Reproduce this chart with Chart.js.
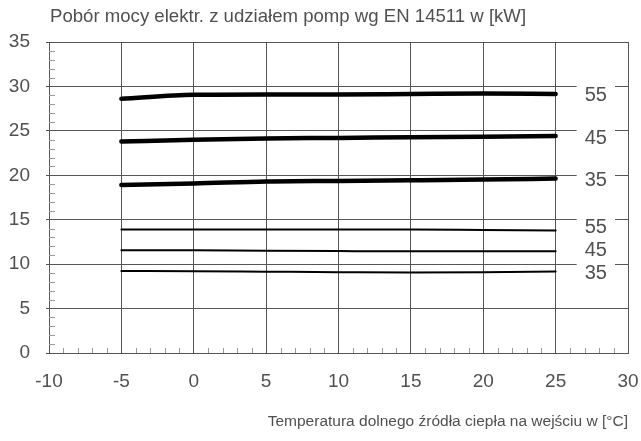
<!DOCTYPE html>
<html>
<head>
<meta charset="utf-8">
<script src="https://cdn.jsdelivr.net/npm/chart.js@4.4.1/dist/chart.umd.min.js"></script>
<style>
  html, body { margin: 0; padding: 0; background: #fff; }
  #wrap { width: 641px; height: 441px; }
</style>
</head>
<body>
<div id="wrap"><canvas id="chart" width="641" height="441"></canvas></div>
<script>
// temperatura dolnego źródła [°C]
const xValues = [-5, 0, 5, 10, 15, 20, 25];

// pobór mocy [kW], grube linie
const thick55 = [28.6, 29.05, 29.1, 29.1, 29.15, 29.2, 29.15];
const thick45 = [23.8, 24.0, 24.15, 24.2, 24.28, 24.33, 24.42];
const thick35 = [18.92, 19.07, 19.3, 19.37, 19.44, 19.52, 19.63];

// cienkie linie
const thin55 = [13.91, 13.91, 13.91, 13.91, 13.9, 13.85, 13.8];
const thin45 = [11.57, 11.55, 11.5, 11.47, 11.45, 11.45, 11.45];
const thin35 = [9.22, 9.2, 9.15, 9.1, 9.06, 9.1, 9.18];

const seriesLabels = ["55", "45", "35", "55", "45", "35"];

const yTitle = "Pobór mocy elektr. z udziałem pomp wg EN 14511 w [kW]";
const xTitle = "Temperatura dolnego źródła ciepła na wejściu w [°C]";

const FONT = "'Liberation Sans', Arial, sans-serif";
const TEXT = "#505050";

function toPoints(values) {
    return values.map((v, i) => ({ x: xValues[i], y: v }));
}

function series(values, label, width) {
    return {
        label,
        data: toPoints(values),
        borderColor: "#000",
        borderWidth: width,
        borderCapStyle: "round",
        pointRadius: 0,
        showLine: true,
        fill: false,
        cubicInterpolationMode: "monotone"
    };
}

const minorTicks = {
    id: "minorTicks",
    beforeDatasetsDraw(chart) {
        const { ctx, chartArea, scales } = chart;
        ctx.save();
        ctx.strokeStyle = "#9a9a9a";
        ctx.lineWidth = 1;
        ctx.beginPath();
        for (let v = -10; v <= 30; v++) {
            if (v % 5 === 0) continue;
            const px = Math.round(scales.x.getPixelForValue(v)) + 0.5;
            ctx.moveTo(px, chartArea.bottom);
            ctx.lineTo(px, chartArea.bottom - 5);
        }
        for (let v = 0; v <= 35; v++) {
            if (v % 5 === 0) continue;
            const py = Math.round(scales.y.getPixelForValue(v)) + 0.5;
            ctx.moveTo(chartArea.left, py);
            ctx.lineTo(chartArea.left + 6, py);
        }
        ctx.stroke();
        ctx.restore();
    }
};

const endLabels = {
    id: "endLabels",
    afterDatasetsDraw(chart) {
        const { ctx, chartArea, scales } = chart;
        const xEnd = scales.x.getPixelForValue(xValues[xValues.length - 1]);
        const items = chart.data.datasets.map(ds => ({
            text: ds.label,
            y: scales.y.getPixelForValue(ds.data[ds.data.length - 1].y)
        }));
        // od dołu: rozsuń etykiety które na siebie nachodzą
        items.sort((a, b) => b.y - a.y);
        for (let i = 1; i < items.length; i++) {
            if (items[i - 1].y - items[i].y < 23) items[i].y = items[i - 1].y - 23;
        }
        ctx.save();
        ctx.fillStyle = "#fff";
        items.forEach(it => {
            ctx.fillRect(xEnd + 21, it.y + 2 - 12, chartArea.right - 13 - (xEnd + 21), 24);
        });
        ctx.fillStyle = TEXT;
        ctx.font = "20px " + FONT;
        ctx.textAlign = "left";
        ctx.textBaseline = "middle";
        items.forEach(it => ctx.fillText(it.text, xEnd + 29, it.y + 2));
        ctx.restore();
    }
};

const topTitle = {
    id: "topTitle",
    afterDraw(chart) {
        const { ctx, chartArea } = chart;
        ctx.save();
        ctx.fillStyle = TEXT;
        ctx.font = "18.6px " + FONT;
        ctx.textAlign = "left";
        ctx.textBaseline = "middle";
        ctx.fillText(yTitle, chartArea.left + 1, 17);
        ctx.restore();
    }
};

new Chart(document.getElementById("chart"), {
    type: "scatter",
    data: {
        datasets: [
            series(thick55, seriesLabels[0], 4.5),
            series(thick45, seriesLabels[1], 4.5),
            series(thick35, seriesLabels[2], 4.5),
            series(thin55, seriesLabels[3], 2),
            series(thin45, seriesLabels[4], 2),
            series(thin35, seriesLabels[5], 2)
        ]
    },
    options: {
        responsive: false,
        animation: false,
        layout: { padding: { top: 42, right: 13, left: 0, bottom: 0 } },
        plugins: {
            legend: { display: false },
            tooltip: { enabled: false }
        },
        scales: {
            x: {
                type: "linear",
                min: -10,
                max: 30,
                ticks: {
                    stepSize: 5,
                    color: TEXT,
                    padding: 17,
                    maxRotation: 0,
                    font: { family: FONT, size: 19 }
                },
                grid: { color: "#555", lineWidth: 1, drawTicks: false },
                border: { color: "#555" },
                title: {
                    display: true,
                    text: xTitle,
                    align: "end",
                    color: TEXT,
                    font: { family: FONT, size: 15.5 },
                    padding: { top: 0, bottom: 10 }
                },
                afterFit(scale) {
                    scale.height = 88;
                    scale.paddingLeft = 0;
                    scale.paddingRight = 0;
                }
            },
            y: {
                min: 0,
                max: 35,
                ticks: {
                    stepSize: 5,
                    color: TEXT,
                    padding: 16,
                    font: { family: FONT, size: 19 }
                },
                grid: { color: "#555", lineWidth: 1, tickLength: 3 },
                border: { color: "#555" },
                afterFit(scale) {
                    scale.width = 49;
                    scale.paddingTop = 0;
                    scale.paddingBottom = 0;
                }
            }
        }
    },
    plugins: [minorTicks, endLabels, topTitle]
});
</script>
</body>
</html>
